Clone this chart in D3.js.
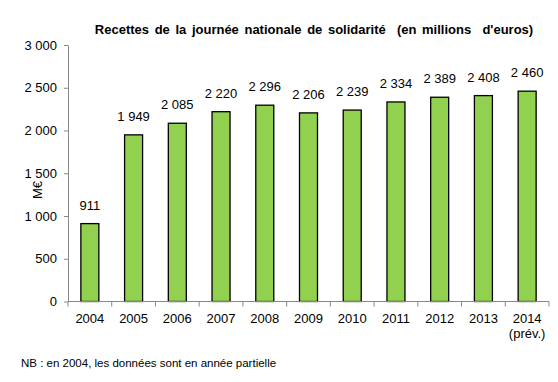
<!DOCTYPE html>
<html><head><meta charset="utf-8">
<script src="https://cdn.jsdelivr.net/npm/d3@7"></script>
<style>body{margin:0;background:#fff;}svg{display:block;font-family:Arial,"Liberation Sans",sans-serif;}</style>
</head><body><svg id="c" width="558" height="382"></svg>
<script>
const years = ["2004","2005","2006","2007","2008","2009","2010","2011","2012","2013","2014"];
const values = [911,1949,2085,2220,2296,2206,2239,2334,2389,2408,2460];
const yTicks = [0,500,1000,1500,2000,2500,3000];
const title = "Recettes de la journée nationale de solidarité  (en millions  d'euros)";
const yLabel = "M€";
const note = "NB : en 2004, les données sont en année partielle";

const svg = d3.select("#c");
const m = {l:68, r:549, t:45, b:301.5};
const xb = d3.scaleBand().domain(years).range([m.l, m.r]);
const y = d3.scaleLinear().domain([0,3000]).range([m.b, m.t]);
const fmt = v => d3.format(",")(v).replace(/,/g, " ");
const axisCol = "#868686";
const FS = 13;

// y axis
const ya = svg.append("g").attr("transform", `translate(${m.l},0)`)
  .call(d3.axisLeft(y).tickValues(yTicks).tickSize(4).tickSizeOuter(0).tickFormat(fmt));
ya.select(".domain").attr("stroke", axisCol);
ya.selectAll(".tick line").attr("stroke", axisCol);
ya.selectAll(".tick text").attr("fill", "#000").attr("font-size", FS).attr("x", -11).attr("font-family","Arial,'Liberation Sans',sans-serif");

// bars
svg.append("g").selectAll("rect").data(values).join("rect")
  .attr("x", (d,i) => xb(years[i]) + xb.bandwidth()/2 - 9)
  .attr("width", 18)
  .attr("y", d => y(d))
  .attr("height", d => y(0) - y(d))
  .attr("fill", "#92D050").attr("stroke", "#000").attr("stroke-width", 1.3);

// value labels
svg.append("g").selectAll("text").data(values).join("text")
  .attr("x", (d,i) => xb(years[i]) + xb.bandwidth()/2)
  .attr("y", d => y(d) - 14)
  .attr("text-anchor","middle").attr("font-size", FS).attr("fill","#000")
  .text(d => fmt(d));

// x axis
const xa = svg.append("g").attr("transform", `translate(0,${m.b})`);
xa.append("line").attr("x1", m.l).attr("x2", m.r).attr("stroke", axisCol);
const bounds = years.map(d => xb(d)).concat([m.r]);
xa.selectAll("line.tk").data(bounds).join("line").attr("class","tk")
  .attr("x1", d=>d).attr("x2", d=>d).attr("y1",0).attr("y2",5).attr("stroke", axisCol);
xa.selectAll("text.lb").data(years).join("text").attr("class","lb")
  .attr("x", d => xb(d) + xb.bandwidth()/2).attr("y", 21)
  .attr("text-anchor","middle").attr("font-size",FS).attr("fill","#000").text(d=>d);
xa.append("text").attr("x", xb("2014") + xb.bandwidth()/2).attr("y", 36)
  .attr("text-anchor","middle").attr("font-size",FS).attr("fill","#000").text("(prév.)");

// y label
svg.append("text").attr("transform", "translate(42,190) rotate(-90)")
  .attr("text-anchor","middle").attr("font-size",FS).attr("fill","#000").text(yLabel);

// title
svg.append("text").attr("x", 314).attr("y", 34).attr("text-anchor","middle")
  .style("white-space","pre").style("word-spacing","2px")
  .attr("font-size",13).attr("font-weight","bold").attr("fill","#000").text(title);

// note
svg.append("text").attr("x", 21).attr("y", 367).attr("font-size",11.5).attr("fill","#000").text(note);
</script></body></html>
